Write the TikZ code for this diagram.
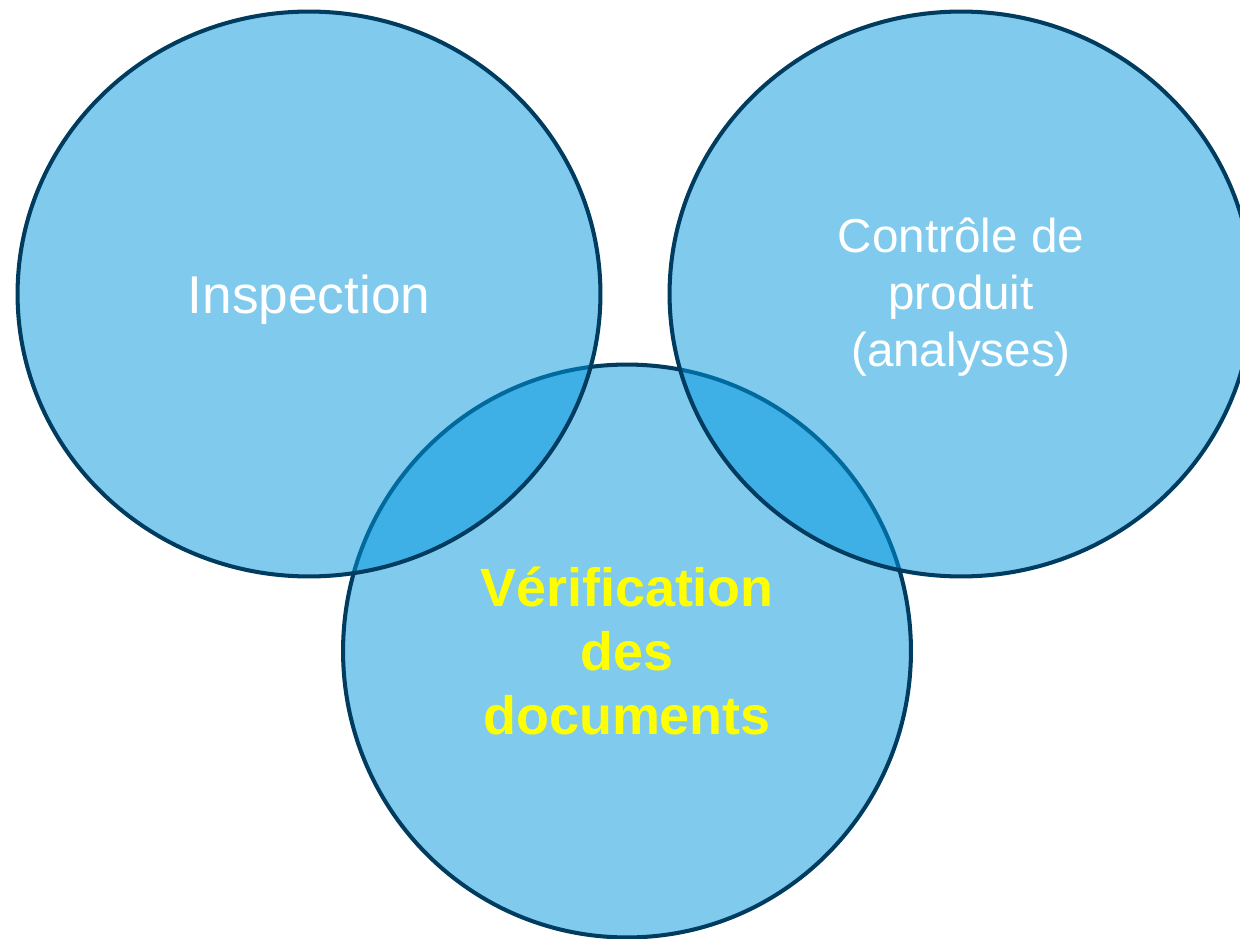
\documentclass[tikz,border=0pt]{standalone}
\usepackage{fontspec}
\setmainfont{Liberation Sans}
\usetikzlibrary{shapes.geometric}
\definecolor{bleubulle}{RGB}{0,150,220}
\definecolor{bordbulle}{RGB}{0,60,95}
\definecolor{jaune}{RGB}{255,255,0}
\begin{document}
\begin{tikzpicture}[x=0.02cm, y=-0.02cm]
\tikzset{bulle/.style={draw=bordbulle, line width=2.3pt, ellipse, fill=bleubulle, fill opacity=0.5, draw opacity=1, text opacity=1, inner sep=0pt, align=center}}
\clip (0, 0) rectangle (1240, 939);
\node[bulle, minimum width=11.36cm, minimum height=11.46cm, text=jaune, font=\bfseries\fontsize{30.7}{36.6}\selectfont] (Verif) at (627, 651) {Vérification\\des\\documents};
\node[bulle, minimum width=11.66cm, minimum height=11.3cm, text=white, font=\fontsize{30.3}{36}\selectfont, text height=22.7pt, text depth=0pt] (Insp) at (309, 294) {Inspection};
\node[bulle, minimum width=11.66cm, minimum height=11.3cm, text=white, font=\fontsize{27.1}{32.6}\selectfont, text height=82.8pt, text depth=0pt] (Ctrl) at (961, 294) {Contrôle de\\produit\\(analyses)};
\end{tikzpicture}
\end{document}
